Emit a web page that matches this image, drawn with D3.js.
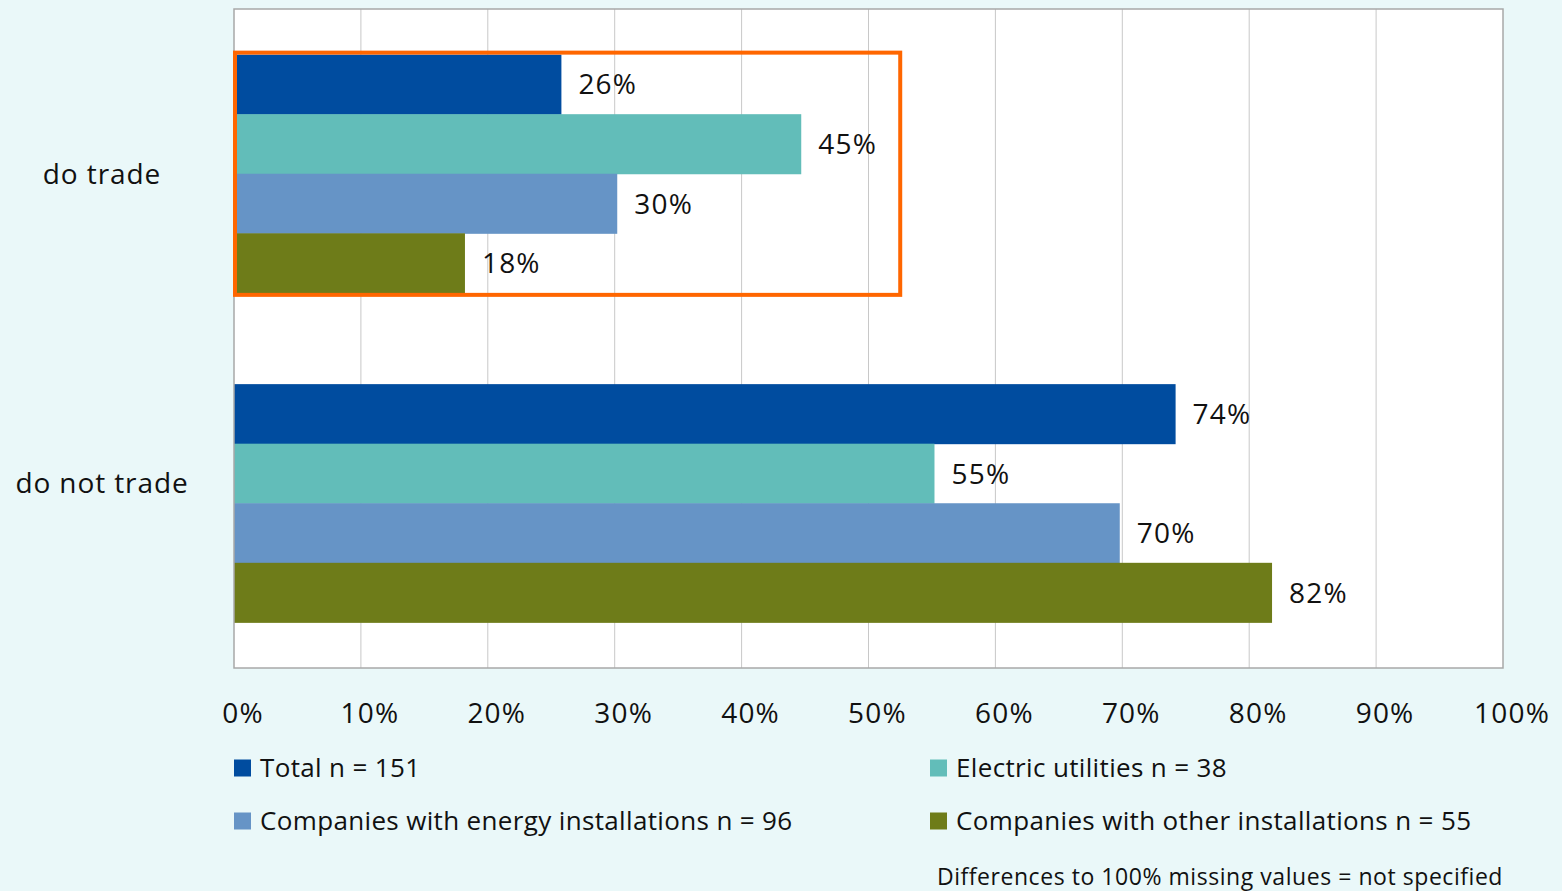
<!DOCTYPE html>
<html><head><meta charset="utf-8">
<script src="https://cdn.jsdelivr.net/npm/d3@7"></script>
<style>
html,body{margin:0;padding:0;background:#eaf8f9;}
svg{display:block;}
text{font-family:"Open Sans","Noto Sans",sans-serif;fill:#111;}
</style></head><body>
<svg id="chart" width="1562" height="891"></svg>
<script>
const categories = ["do trade", "do not trade"];
const seriesNames = ["Total n = 151", "Electric utilities n = 38", "Companies with energy installations n = 96", "Companies with other installations n = 55"];
const seriesColors = ["#004c9f", "#62bdb9", "#6694c6", "#6e7c19"];
const totalValues = [25.8, 74.2];
const electricValues = [44.7, 55.2];
const energyValues = [30.2, 69.8];
const otherValues = [18.2, 81.8];
const valueLabels = [["26%", "74%"], ["45%", "55%"], ["30%", "70%"], ["18%", "82%"]];
const xTicks = [0,10,20,30,40,50,60,70,80,90,100];
const highlightExtent = 52.5;
const footnote = "Differences to 100% missing values = not specified";

(function(){
const series = [totalValues, electricValues, energyValues, otherValues];
const svg = d3.select("#chart");
const pl = 234, pr = 1503, pt = 9, pb = 668;

const x = d3.scaleLinear().domain([0,100]).range([pl,pr]);
const y0 = d3.scaleBand().domain(categories).range([pt,pb]).paddingInner(0.277).paddingOuter(0.1385);
const y1 = d3.scaleBand().domain(d3.range(4)).range([0,y0.bandwidth()]);

svg.append("rect").attr("x",pl).attr("y",pt).attr("width",pr-pl).attr("height",pb-pt).attr("fill","#fff");

svg.append("g").selectAll("line").data(xTicks.slice(1,-1)).join("line")
  .attr("x1",d=>x(d)).attr("x2",d=>x(d)).attr("y1",pt).attr("y2",pb)
  .attr("stroke","#c8c8c8").attr("stroke-width",1);

const groups = svg.append("g").selectAll("g").data(categories).join("g")
  .attr("transform",c=>`translate(0,${y0(c)})`);
groups.each(function(c,ci){
  const g = d3.select(this);
  series.forEach((vals,si)=>{
    g.append("rect").attr("x",x(0)).attr("y",y1(si)).attr("width",x(vals[ci])-x(0)).attr("height",y1.bandwidth()+0.5).attr("fill",seriesColors[si]);
    g.append("text").attr("x",x(vals[ci])+17).attr("y",y1(si)+y1.bandwidth()/2).attr("dy","0.36em")
      .attr("font-size",28).attr("letter-spacing",1.2).text(valueLabels[si][ci]);
  });
});

svg.append("rect").attr("x",pl).attr("y",pt).attr("width",pr-pl).attr("height",pb-pt)
  .attr("fill","none").attr("stroke","#a8a8a8").attr("stroke-width",1.5);

svg.append("rect").attr("x",x(0)+1).attr("y",y0("do trade")-2).attr("width",x(highlightExtent)-x(0)-1).attr("height",y0.bandwidth()+4)
  .attr("fill","none").attr("stroke","#ff6600").attr("stroke-width",4);

const catShift = [0,-20];
svg.append("g").selectAll("text").data(categories).join("text")
  .attr("x",102).attr("y",(c,i)=>y0(c)+y0.bandwidth()/2+catShift[i]).attr("dy","0.36em").attr("text-anchor","middle")
  .attr("font-size",28).attr("letter-spacing",0.9).text(d=>d);

svg.append("g").selectAll("text").data(xTicks).join("text")
  .attr("x",d=>x(d)+9).attr("y",713).attr("dy","0.36em").attr("text-anchor","middle")
  .attr("font-size",28).attr("letter-spacing",1.2).text(d=>d+"%");

const legPos = [[234,768],[930,768],[234,821],[930,821]];
seriesNames.forEach((n,i)=>{
  svg.append("rect").attr("x",legPos[i][0]).attr("y",legPos[i][1]-8.5).attr("width",17).attr("height",17).attr("fill",seriesColors[i]);
  svg.append("text").attr("x",legPos[i][0]+26).attr("y",legPos[i][1]).attr("dy","0.36em").attr("font-size",26).attr("letter-spacing",0.35).text(n);
});
svg.append("text").attr("x",1503).attr("y",877).attr("dy","0.36em").attr("text-anchor","end").attr("font-size",23).attr("letter-spacing",0.55).text(footnote);
})();
</script>
</body></html>
